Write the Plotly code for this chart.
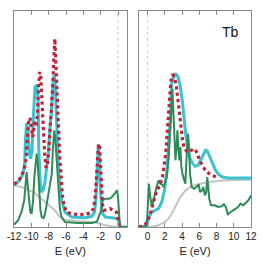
import plotly.graph_objects as go

# ---------- data (energy in eV, DOS in arbitrary units) ----------
# Left panel (occupied states)
L_red_E = [-11.99, -11.36, -10.85, -10.62, -10.47, -10.31, -10.16, -10.0, -9.84, -9.73, -9.61, -9.46, -9.3, -9.15, -9.03, -8.91, -8.8, -8.68, -8.57, -8.45, -8.29, -8.14, -7.98, -7.83, -7.67, -7.52, -7.4, -7.29, -7.17, -7.05, -6.9, -6.74, -6.59, -6.43, -6.24, -5.93, -5.35, -4.57, -3.8, -3.22, -2.83, -2.64, -2.48, -2.36, -2.25, -2.13, -2.02, -1.9, -1.78, -1.63, -1.28, -0.89, -0.5, -0.19, 0.0, 0.16, 0.31]
L_red_v = [42.7, 47.7, 56.7, 66.7, 86.7, 105.0, 109.3, 96.7, 90.0, 96.7, 106.7, 100.0, 113.3, 143.3, 155.0, 150.0, 130.0, 110.0, 90.0, 70.0, 59.3, 63.3, 76.7, 96.7, 116.7, 143.3, 170.0, 188.3, 163.3, 136.7, 100.0, 73.3, 53.3, 33.3, 21.7, 15.0, 13.3, 12.3, 12.7, 14.0, 18.3, 30.0, 50.0, 70.0, 83.3, 81.7, 63.3, 40.0, 21.7, 16.7, 17.3, 18.3, 16.7, 15.0, 8.3, 1.7, 0.0]
L_cyan_E = [-11.99, -11.36, -10.97, -10.78, -10.66, -10.54, -10.39, -10.23, -10.08, -9.92, -9.77, -9.57, -9.38, -9.22, -9.15, -8.99, -8.84, -8.64, -8.45, -8.26, -8.06, -7.87, -7.67, -7.48, -7.36, -7.25, -7.09, -6.9, -6.71, -6.51, -6.12, -5.35, -3.8, -3.02, -2.71, -2.56, -2.4, -2.29, -2.17, -2.05, -1.86, -1.47, -0.7, 0.0, 0.16, 0.31, 1.05]
L_cyan_v = [41.7, 46.7, 53.3, 63.3, 90.0, 104.0, 96.7, 73.3, 68.3, 76.7, 110.0, 140.0, 141.7, 130.0, 80.0, 46.7, 35.0, 36.7, 43.3, 56.7, 73.3, 96.7, 116.7, 146.7, 151.7, 143.3, 103.3, 63.3, 40.0, 26.7, 15.0, 10.0, 9.3, 10.7, 15.0, 26.7, 56.7, 80.0, 70.0, 40.0, 15.0, 10.0, 9.3, 8.3, 1.7, 0.0, 0.0]
L_green_E = [-11.99, -11.52, -11.13, -10.82, -10.66, -10.54, -10.43, -10.27, -10.12, -9.96, -9.8, -9.65, -9.49, -9.38, -9.26, -9.11, -8.95, -8.8, -8.6, -8.41, -8.22, -8.06, -7.91, -7.75, -7.64, -7.52, -7.36, -7.25, -7.09, -6.9, -6.71, -6.51, -6.12, -4.57, -3.02, -2.44, -2.25, -2.09, -1.94, -1.78, -1.47, -1.01, -0.7, -0.39, -0.12, 0.0, 0.12, 0.23, 1.05]
L_green_v = [2.3, 6.7, 15.0, 26.7, 43.3, 55.0, 43.3, 23.3, 15.0, 13.3, 26.7, 50.0, 68.3, 73.3, 63.3, 36.7, 16.7, 10.0, 9.0, 13.3, 23.3, 31.7, 40.0, 48.3, 53.3, 76.7, 96.7, 90.0, 66.7, 36.7, 18.3, 10.0, 5.0, 4.0, 4.0, 5.3, 10.0, 13.3, 16.7, 26.7, 28.3, 28.3, 30.0, 33.3, 36.7, 30.0, 10.0, 0.0, 0.0]
L_gray_E = [-11.99, -11.16, -10.39, -9.61, -8.84, -8.06, -7.29, -6.71, -6.12, -4.57, -2.64, -2.05, -1.47, -0.7, 0.08, 1.05]
L_gray_v = [41.7, 40.0, 37.3, 34.0, 28.3, 22.7, 16.7, 10.0, 7.3, 6.0, 4.7, 3.3, 1.7, 0.7, 0.0, 0.0]

# Right panel (unoccupied states)
R_red_E = [-1.04, -0.65, -0.27, 0.0, 0.31, 0.62, 0.88, 1.15, 1.46, 1.73, 1.92, 2.08, 2.23, 2.38, 2.54, 2.69, 2.85, 3.0, 3.15, 3.31, 3.46, 3.62, 3.77, 3.92, 4.08, 4.27, 4.54, 4.85, 5.12, 5.31, 5.54, 5.77, 6.0, 6.31, 6.65, 7.04, 7.54, 8.19]
R_red_v = [0.0, 0.7, 2.7, 6.0, 12.7, 23.3, 31.7, 37.3, 42.7, 50.0, 60.0, 71.7, 88.3, 110.0, 130.0, 145.0, 151.7, 151.7, 148.3, 142.7, 131.7, 118.3, 106.7, 95.0, 85.0, 78.3, 76.0, 75.0, 76.7, 78.3, 77.3, 73.3, 67.3, 61.7, 57.3, 54.0, 51.3, 49.3]
R_cyan_E = [-1.0, -0.08, 0.04, 0.23, 0.5, 0.88, 1.27, 1.65, 1.96, 2.23, 2.46, 2.62, 2.77, 2.92, 3.08, 3.31, 3.54, 3.77, 4.0, 4.23, 4.46, 4.69, 4.92, 5.23, 5.54, 5.85, 6.15, 6.46, 6.73, 6.92, 7.23, 7.54, 7.85, 8.23, 8.69, 9.35, 12.04]
R_cyan_v = [0.0, 0.0, 8.3, 11.7, 15.0, 16.7, 18.3, 25.0, 36.7, 56.7, 83.3, 106.7, 143.3, 146.7, 152.7, 152.7, 150.0, 141.7, 128.3, 108.3, 90.0, 76.7, 68.3, 63.3, 60.7, 61.7, 66.7, 72.7, 76.7, 76.0, 70.0, 62.7, 57.3, 52.7, 50.0, 49.0, 49.0]
R_green_E = [-1.04, -0.27, -0.08, 0.04, 0.15, 0.31, 0.5, 0.69, 0.88, 1.08, 1.27, 1.46, 1.65, 1.85, 2.04, 2.23, 2.42, 2.62, 2.77, 2.88, 3.0, 3.12, 3.23, 3.38, 3.46, 3.58, 3.69, 3.81, 3.92, 4.08, 4.23, 4.38, 4.54, 4.69, 4.81, 4.92, 5.12, 5.38, 5.69, 5.92, 6.08, 6.31, 6.46, 6.65, 6.81, 6.92, 7.04, 7.15, 7.35, 7.81, 8.19, 8.58, 8.85, 9.08, 9.31, 9.62, 9.92, 10.23, 10.5, 10.77, 11.08, 11.38, 11.69, 12.04]
R_green_v = [0.0, 0.7, 3.3, 23.3, 43.3, 30.0, 20.0, 26.7, 35.0, 41.7, 46.7, 43.3, 42.7, 40.0, 45.0, 50.0, 66.7, 90.0, 116.7, 138.3, 110.0, 76.7, 66.7, 83.3, 96.7, 76.7, 66.7, 80.0, 60.0, 51.7, 46.7, 43.3, 73.3, 93.3, 80.0, 53.3, 40.0, 38.3, 40.0, 42.7, 35.0, 36.7, 40.0, 31.7, 35.0, 50.0, 40.0, 28.3, 21.7, 21.7, 20.0, 20.7, 22.7, 20.0, 12.7, 15.0, 16.7, 18.3, 20.0, 23.3, 21.7, 24.0, 26.7, 31.7]
R_gray_E = [-1.04, 0.31, 1.08, 1.85, 2.42, 2.92, 3.38, 3.85, 4.35, 4.92, 5.69, 6.46, 7.42, 8.38, 9.92, 12.04]
R_gray_v = [0.0, 0.0, 1.3, 4.0, 8.3, 15.0, 23.3, 30.7, 36.0, 40.0, 42.3, 44.0, 45.3, 46.3, 47.0, 47.3]

left_ticks = [-12, -10, -8, -6, -4, -2, 0]
right_ticks = [0, 2, 4, 6, 8, 10, 12]
element = "Tb"

# ---------- styles ----------
RED = "#c42038"
CYAN = "#38c3cf"
GREEN = "#2e8b57"
GRAY = "#c4c4c4"
FRAME = "#8a8a8a"

fig = go.Figure()

def add_panel(xa, ya, gE, gv, cE, cv, grE, grv, rE, rv):
    fig.add_trace(go.Scatter(x=gE, y=gv, mode="lines", line=dict(color=GRAY, width=2),
                             xaxis=xa, yaxis=ya, showlegend=False, hoverinfo="skip"))
    fig.add_trace(go.Scatter(x=cE, y=cv, mode="lines", line=dict(color=CYAN, width=3),
                             xaxis=xa, yaxis=ya, showlegend=False, hoverinfo="skip"))
    fig.add_trace(go.Scatter(x=grE, y=grv, mode="lines", line=dict(color=GREEN, width=2),
                             xaxis=xa, yaxis=ya, showlegend=False, hoverinfo="skip"))
    fig.add_trace(go.Scatter(x=rE, y=rv, mode="lines", line=dict(color=RED, width=3.2, dash="dot"),
                             xaxis=xa, yaxis=ya, showlegend=False, hoverinfo="skip"))

add_panel("x", "y", L_gray_E, L_gray_v, L_cyan_E, L_cyan_v, L_green_E, L_green_v, L_red_E, L_red_v)
add_panel("x2", "y2", R_gray_E, R_gray_v, R_cyan_E, R_cyan_v, R_green_E, R_green_v, R_red_E, R_red_v)

FONT = "Liberation Sans, Arial, sans-serif"
xcommon = dict(showline=True, linecolor=FRAME, linewidth=1.3, mirror="ticks",
               ticks="inside", ticklen=4, tickwidth=1, tickcolor=FRAME,
               showgrid=False, zeroline=False, automargin=False,
               ticklabeloverflow="allow",
               tickfont=dict(family=FONT, size=10, color="#222"),
               title=dict(text="E (eV)", font=dict(family=FONT, size=11, color="#222"), standoff=6))
ycommon = dict(showline=True, linecolor=FRAME, linewidth=1.3, mirror=True, automargin=False,
               showticklabels=False, ticks="", showgrid=False, zeroline=False,
               range=[0, 216])

fig.update_layout(
    width=266, height=266,
    margin=dict(l=14, r=15, t=11, b=39, autoexpand=False),
    paper_bgcolor="white", plot_bgcolor="white",
    hovermode=False,
    xaxis=dict(domain=[0, 0.4755], range=[-12, 1], tickvals=left_ticks,
               ticktext=[str(t) for t in left_ticks], anchor="y", **xcommon),
    yaxis=dict(domain=[0, 1], anchor="x", **ycommon),
    xaxis2=dict(domain=[0.5274, 1], range=[-1, 12], tickvals=right_ticks,
                ticktext=[str(t) for t in right_ticks], anchor="y2", **xcommon),
    yaxis2=dict(domain=[0, 1], anchor="x2", **ycommon),
    shapes=[
        dict(type="line", xref="x", yref="y domain", x0=0, x1=0, y0=0, y1=1,
             line=dict(color="#c8c8c8", width=1, dash="dot"), layer="below"),
        dict(type="line", xref="x2", yref="y2 domain", x0=0, x1=0, y0=0, y1=1,
             line=dict(color="#c8c8c8", width=1, dash="dot"), layer="below"),
    ],
    annotations=[dict(text=element, xref="x2 domain", yref="y2 domain", x=0.82, y=0.905,
                      showarrow=False, font=dict(family=FONT, size=14, color="#111"),
                      xanchor="center", yanchor="middle")],
)

# remove the default page margin so the figure sits at the window origin
fig.write_html("out.html", config={"displayModeBar": False, "staticPlot": True},
               post_script="document.body.style.margin='0';document.body.style.overflow='hidden';")
